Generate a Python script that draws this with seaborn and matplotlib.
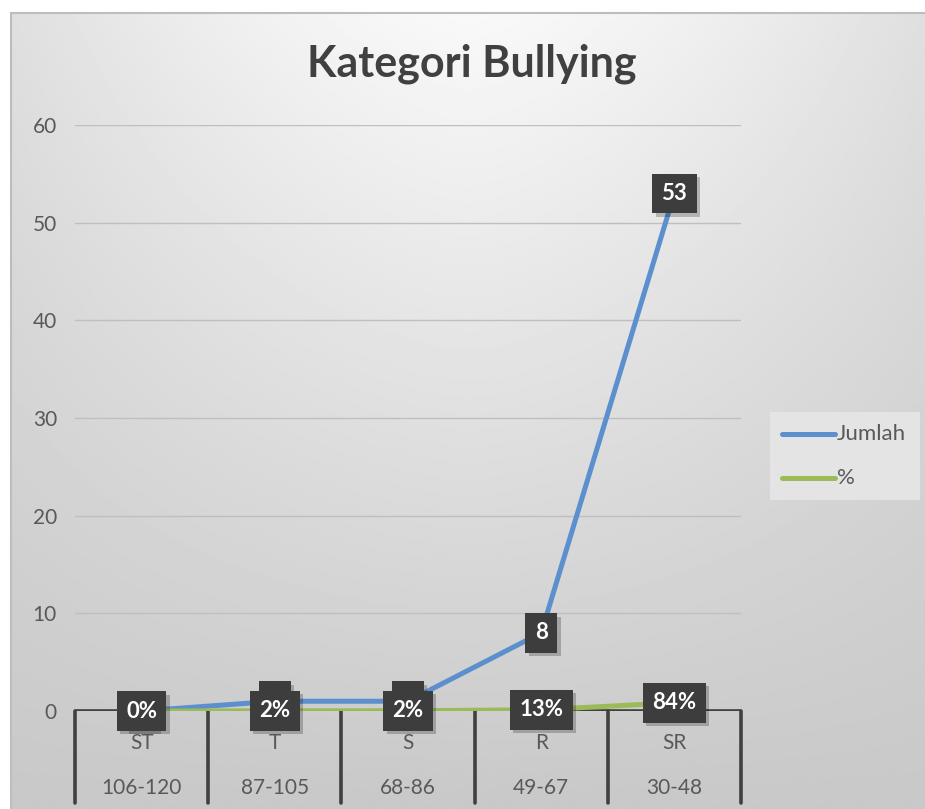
import matplotlib
import numpy as np
import pandas as pd
import seaborn as sns

matplotlib.use("Agg")
import matplotlib.pyplot as plt
import matplotlib.transforms as mtransforms

# data
categories = ["ST", "T", "S", "R", "SR"]
score_ranges = ["106-120", "87-105", "68-86", "49-67", "30-48"]
jumlah = [0, 1, 1, 8, 53]
persen = [0.00, 0.02, 0.02, 0.13, 0.84]

BLUE = "#5b8fcd"
GREEN = "#9bbb59"
TEXT = "#595959"
LABEL_BG = "#3d3d3d"


def configure_plot_style() -> None:
    sns.set_theme(style="white")
    plt.rcParams["font.family"] = ["Lato", "DejaVu Sans"]


def draw_background(fig: plt.Figure) -> None:
    # Excel-like chart area: light at top centre, darker gray at bottom/edges
    bg = fig.add_axes([11 / 925, 0, 1 - 11 / 925, (809 - 13) / 809], zorder=-10)
    xs = np.linspace(0, 1, 300)
    ys = np.linspace(0, 1, 300)
    gx, gy = np.meshgrid(xs, ys)
    val = 0.975 - 0.19 * gy - 0.10 * (1 - gy) * np.abs(2 * gx - 1) ** 1.5
    bg.imshow(val, cmap="gray", vmin=0, vmax=1, aspect="auto", extent=(0, 1, 1, 0))
    bg.set_xlim(0, 1)
    bg.set_ylim(1, 0)
    bg.set_xticks([])
    bg.set_yticks([])
    for side in ["left", "top"]:
        bg.spines[side].set_color("#bdbdbd")
        bg.spines[side].set_linewidth(1.5)
    for side in ["right", "bottom"]:
        bg.spines[side].set_visible(False)


def add_label(ax, x, y, text, z):
    # shadow box
    ax.annotate(text, (x, y), xytext=(2.5, -2.5), textcoords="offset points",
                ha="center", va="center", fontsize=16, fontweight="bold",
                color=(0, 0, 0, 0), zorder=z - 0.5, annotation_clip=False,
                bbox=dict(boxstyle="square,pad=0.42", fc=(0, 0, 0, 0.22), ec="none"))
    ax.annotate(text, (x, y), ha="center", va="center", fontsize=16,
                fontweight="bold", color="white", zorder=z, annotation_clip=False,
                bbox=dict(boxstyle="square,pad=0.42", fc=LABEL_BG, ec="none"))


def main() -> None:
    configure_plot_style()
    fig = plt.figure(figsize=(9.25, 8.09), dpi=100)
    fig.patch.set_facecolor("white")
    draw_background(fig)

    left, right = 75 / 925, 741 / 925
    bottom, top = (809 - 711) / 809, (809 - 125) / 809
    ax = fig.add_axes([left, bottom, right - left, top - bottom])
    ax.patch.set_alpha(0)

    df = pd.DataFrame({
        "pos": np.arange(len(categories)) + 0.5,
        "Jumlah": jumlah,
        "%": persen,
    })
    long_df = df.melt(id_vars="pos", var_name="series", value_name="value")
    sns.lineplot(data=long_df, x="pos", y="value", hue="series",
                 palette={"Jumlah": BLUE, "%": GREEN}, linewidth=3.6,
                 ax=ax, legend=False, zorder=3, sort=False)
    for line in ax.lines:
        line.set_solid_capstyle("round")

    ax.set_xlim(0, len(categories))
    ax.set_ylim(0, 60)
    ax.set_yticks(range(0, 61, 10))
    ax.set_yticklabels([str(v) for v in range(0, 61, 10)], fontsize=15, color=TEXT)
    ax.tick_params(axis="y", length=0, pad=13)
    ax.set_xticks([])
    ax.set_xlabel("")
    ax.set_ylabel("")
    for side in ["left", "right", "top", "bottom"]:
        ax.spines[side].set_visible(False)
    for v in range(10, 61, 10):
        ax.axhline(v, color="#bfbfbf", linewidth=1.0, zorder=1)
    ax.axhline(0, color="#404040", linewidth=2.6, zorder=2)

    # multi-level category axis
    trans = mtransforms.blended_transform_factory(ax.transData, ax.transAxes)
    depth = -(803 - 711) / (711 - 125)
    for b in range(len(categories) + 1):
        ax.plot([b, b], [0, depth], transform=trans, color="#404040",
                linewidth=2.6, clip_on=False, zorder=2)
    for i, (cat, rng) in enumerate(zip(categories, score_ranges)):
        ax.text(i + 0.5, -(743 - 711) / 586, cat, transform=trans, ha="center",
                va="center", fontsize=15, color=TEXT)
        ax.text(i + 0.5, -(788 - 711) / 586, rng, transform=trans, ha="center",
                va="center", fontsize=15, color=TEXT)

    # data labels: Jumlah first, % on top of them
    for x, v in zip(df["pos"], jumlah):
        add_label(ax, x, v, f"{v}", 5)
    for x, v in zip(df["pos"], persen):
        add_label(ax, x, v, f"{v:.0%}", 7)

    fig.text(472 / 925, 1 - 64 / 809, "Kategori Bullying", ha="center",
             va="center", fontsize=31, fontweight="bold", color="#404040")

    # legend
    leg_ax = fig.add_axes([770 / 925, 1 - 500 / 809, 150 / 925, 88 / 809])
    leg_ax.set_facecolor("#e4e4e4")
    leg_ax.set_xlim(0, 150)
    leg_ax.set_ylim(88, 0)
    leg_ax.set_xticks([])
    leg_ax.set_yticks([])
    for side in leg_ax.spines.values():
        side.set_visible(False)
    for yy, name, col in [(22, "Jumlah", BLUE), (66, "%", GREEN)]:
        leg_ax.plot([12, 65], [yy, yy], color=col, linewidth=3.6,
                    solid_capstyle="round")
        leg_ax.text(67, yy, name, ha="left", va="center", fontsize=16, color=TEXT)

    fig.savefig("out.png", dpi=100)
    plt.close(fig)


if __name__ == "__main__":
    main()
